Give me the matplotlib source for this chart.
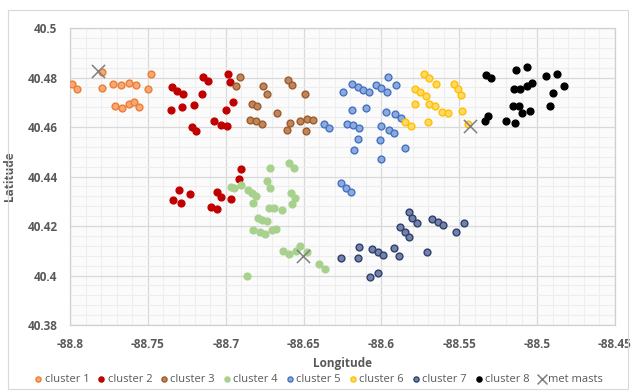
import matplotlib
matplotlib.use("Agg")
import matplotlib.pyplot as plt
from matplotlib.patches import Rectangle
from matplotlib.ticker import MultipleLocator, FuncFormatter

plt.rcParams['font.family'] = ['Open Sans', 'DejaVu Sans']

# Turbine locations (longitude, latitude) grouped by cluster
c1_lon = [-88.7793, -88.7482, -88.7985, -88.7953, -88.7793, -88.7722, -88.7673, -88.7619,
          -88.7576, -88.7501, -88.7709, -88.7668, -88.7623, -88.7587, -88.7557]
c1_lat = [40.4821, 40.4814, 40.4774, 40.4755, 40.4759, 40.4775, 40.4769, 40.4777,
          40.4771, 40.4754, 40.4685, 40.4678, 40.4693, 40.4700, 40.4681]

c2_lon = [-88.7347, -88.7311, -88.7273, -88.7148, -88.7116, -88.6984, -88.6973, -88.7151,
          -88.6955, -88.7350, -88.7281, -88.7202, -88.6997, -88.7219, -88.7191, -88.7076,
          -88.7033, -88.6992, -88.6902, -88.6915, -88.7298, -88.7232, -88.7337, -88.7289,
          -88.7058, -88.7031, -88.6968, -88.7093, -88.7054]
c2_lat = [40.4760, 40.4747, 40.4732, 40.4801, 40.4786, 40.4814, 40.4781, 40.4732,
          40.4702, 40.4668, 40.4681, 40.4688, 40.4668, 40.4601, 40.4585, 40.4624,
          40.4609, 40.4604, 40.4429, 40.4391, 40.4346, 40.4329, 40.4305, 40.4294,
          40.4336, 40.4318, 40.4309, 40.4276, 40.4268]

c3_lon = [-88.6907, -88.6932, -88.6833, -88.6799, -88.6844, -88.6806, -88.6763, -88.6733,
          -88.6599, -88.6573, -88.6491, -88.6669, -88.6769, -88.6588, -88.6609, -88.6525,
          -88.6485, -88.6477, -88.6440]
c3_lat = [40.4801, 40.4766, 40.4692, 40.4684, 40.4627, 40.4623, 40.4766, 40.4732,
          40.4790, 40.4769, 40.4732, 40.4655, 40.4612, 40.4617, 40.4588, 40.4625,
          40.4584, 40.4634, 40.4628]

c4_lon = [-88.6594, -88.6562, -88.6716, -88.6902, -88.6733, -88.6716, -88.6964, -88.6945,
          -88.6855, -88.6832, -88.6808, -88.6823, -88.6583, -88.6557, -88.6575, -88.6720,
          -88.6688, -88.6637, -88.6793, -88.6765, -88.6735, -88.6823, -88.6782, -88.6748,
          -88.6701, -88.6677, -88.6634, -88.6592, -88.6551, -88.6523, -88.6480, -88.6401,
          -88.6363, -88.6866]
c4_lat = [40.4453, 40.4436, 40.4436, 40.4367, 40.4383, 40.4354, 40.4358, 40.4355,
          40.4344, 40.4332, 40.4320, 40.4294, 40.4335, 40.4313, 40.4289, 40.4272,
          40.4272, 40.4264, 40.4231, 40.4224, 40.4222, 40.4184, 40.4176, 40.4168,
          40.4183, 40.4189, 40.4098, 40.4086, 40.4099, 40.4119, 40.4096, 40.4045,
          40.4026, 40.3998]

c5_lon = [-88.6367, -88.6335, -88.6245, -88.6188, -88.6153, -88.6117, -88.6078, -88.6037,
          -88.6003, -88.5967, -88.5960, -88.5907, -88.6191, -88.6098, -88.5971, -88.5913,
          -88.5875, -88.6224, -88.6181, -88.6145, -88.6005, -88.5954, -88.5918, -88.6151,
          -88.6010, -88.5851, -88.6175, -88.6003, -88.6258, -88.6228, -88.6196]
c5_lat = [40.4612, 40.4595, 40.4741, 40.4774, 40.4763, 40.4750, 40.4740, 40.4771,
          40.4756, 40.4743, 40.4803, 40.4769, 40.4669, 40.4678, 40.4661, 40.4653,
          40.4636, 40.4612, 40.4608, 40.4597, 40.4604, 40.4588, 40.4577, 40.4552,
          40.4548, 40.4514, 40.4507, 40.4471, 40.4373, 40.4354, 40.4336]

c6_lon = [-88.5725, -88.5695, -88.5652, -88.5787, -88.5751, -88.5716, -88.5783, -88.5695,
          -88.5659, -88.5614, -88.5571, -88.5700, -88.5537, -88.5507, -88.5490, -88.5481,
          -88.5847, -88.5811, -88.5443]
c6_lat = [40.4814, 40.4797, 40.4775, 40.4755, 40.4740, 40.4727, 40.4694, 40.4693,
          40.4684, 40.4662, 40.4655, 40.4621, 40.4775, 40.4752, 40.4729, 40.4665,
          40.4621, 40.4604, 40.4611]

c7_lon = [-88.5826, -88.5802, -88.5774, -88.5674, -88.5637, -88.5605, -88.5471, -88.5524,
          -88.5881, -88.5847, -88.5824, -88.6143, -88.6059, -88.6023, -88.5989, -88.5920,
          -88.5888, -88.5710, -88.6258, -88.6149, -88.6072, -88.6023]
c7_lat = [40.4258, 40.4234, 40.4213, 40.4228, 40.4215, 40.4203, 40.4213, 40.4177,
          40.4195, 40.4175, 40.4156, 40.4114, 40.4107, 40.4096, 40.4083, 40.4111,
          40.4080, 40.4095, 40.4070, 40.4072, 40.3993, 40.4011]

c8_lon = [-88.5329, -88.5297, -88.5137, -88.5066, -88.5148, -88.5107, -88.5068, -88.5036,
          -88.4940, -88.4875, -88.4827, -88.4901, -88.5154, -88.5116, -88.5096, -88.5045,
          -88.4916, -88.5315, -88.5338, -88.5201, -88.5143]
c8_lat = [40.4810, 40.4797, 40.4830, 40.4842, 40.4755, 40.4755, 40.4767, 40.4778,
          40.4806, 40.4814, 40.4767, 40.4739, 40.4685, 40.4685, 40.4657, 40.4665,
          40.4686, 40.4645, 40.4623, 40.4626, 40.4617]

mast_lon = [-88.7818, -88.5430, -88.6502]
mast_lat = [40.4828, 40.4604, 40.4079]

series_names = ["cluster 1", "cluster 2", "cluster 3", "cluster 4",
                "cluster 5", "cluster 6", "cluster 7", "cluster 8"]
series_lon = [c1_lon, c2_lon, c3_lon, c4_lon, c5_lon, c6_lon, c7_lon, c8_lon]
series_lat = [c1_lat, c2_lat, c3_lat, c4_lat, c5_lat, c6_lat, c7_lat, c8_lat]
# (fill, edge) per cluster
series_style = [("#F6A878", "#ED7D31"), ("#C00000", "#C00000"), ("#C0865A", "#9C5B2E"),
                ("#A9D18E", "#A9D18E"), ("#8EAADB", "#4472C4"), ("#FFD966", "#FFC000"),
                ("#7282A8", "#2F3F6B"), ("#000000", "#000000")]

fig = plt.figure(figsize=(6.34, 3.92), dpi=100)
fig.patches.append(Rectangle((8 / 634, 3 / 392), 620 / 634, 379 / 392, transform=fig.transFigure,
                             fill=False, edgecolor="#d9d9d9", linewidth=0.8))
ax = fig.add_axes([70 / 634, 1 - 325 / 392, 545 / 634, 297 / 392])

for name, lo, la, (fc, ec) in zip(series_names, series_lon, series_lat, series_style):
    ax.scatter(lo, la, s=24, c=fc, edgecolors=ec, linewidths=1.0, label=name, zorder=3)
ax.scatter(mast_lon, mast_lat, s=90, marker="x", c="#7F7F7F", linewidths=1.1,
           label="met masts", zorder=4)

ax.set_xlim(-88.8, -88.45)
ax.set_ylim(40.38, 40.5)
ax.xaxis.set_major_locator(MultipleLocator(0.05))
ax.xaxis.set_minor_locator(MultipleLocator(0.01))
ax.yaxis.set_major_locator(MultipleLocator(0.02))
ax.yaxis.set_minor_locator(MultipleLocator(0.004))
ax.xaxis.set_major_formatter(FuncFormatter(lambda v, p: f"{v:.2f}".rstrip("0").rstrip(".")))
ax.yaxis.set_major_formatter(FuncFormatter(lambda v, p: f"{v:.2f}".rstrip("0").rstrip(".")))
ax.grid(which="major", color="#d9d9d9", linewidth=0.9, zorder=0)
ax.grid(which="minor", color="#eeeeee", linewidth=0.8, zorder=0)
ax.set_axisbelow(True)
ax.set_facecolor("#fbfbfb")
for s in ax.spines.values():
    s.set_color("#d0d0d0")
    s.set_linewidth(0.9)
ax.tick_params(which="both", length=0)
ax.tick_params(axis="x", pad=9, labelsize=8.5, labelcolor="#595959")
ax.tick_params(axis="y", pad=9, labelsize=8.5, labelcolor="#595959")
for lbl in ax.get_xticklabels() + ax.get_yticklabels():
    lbl.set_fontweight("bold")

ax.set_xlabel("Longitude", fontsize=8.5, fontweight="bold", color="#595959", labelpad=5)
ax.set_ylabel("Latitude", fontsize=8.5, fontweight="bold", color="#595959", labelpad=8)

handles, labels = ax.get_legend_handles_labels()
leg = fig.legend(handles, labels, loc="center", bbox_to_anchor=(318 / 634, 1 - 379 / 392),
                 ncol=9, frameon=False, fontsize=8, handletextpad=0.05, columnspacing=0.6,
                 markerscale=0.75, handlelength=1.0, borderaxespad=0)
for t in leg.get_texts():
    t.set_color("#595959")

fig.savefig("out.png", dpi=100)
